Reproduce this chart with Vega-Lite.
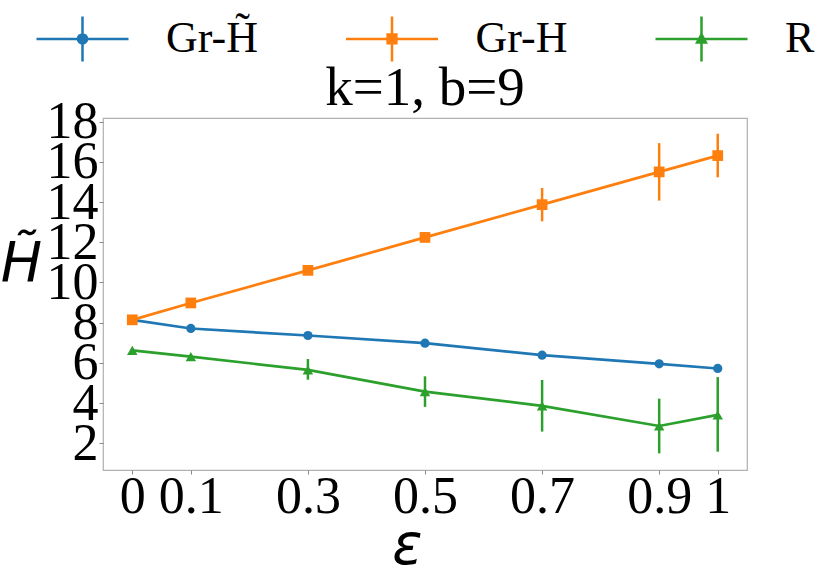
{
  "$schema": "https://vega.github.io/schema/vega-lite/v6.json",
  "width": 644,
  "height": 352,
  "autosize": "none",
  "padding": {"left": 103, "top": 118, "right": 83, "bottom": 106},
  "background": "white",
  "title": {
    "text": "k=1, b=9",
    "font": "Liberation Serif",
    "fontSize": 55,
    "fontWeight": "normal",
    "color": "black",
    "anchor": "middle",
    "baseline": "alphabetic",
    "offset": -169
  },
  "data": {
    "values": [
      {"series": "Gr-H̃", "eps": 0, "val": 8.14, "lo": 8.12, "hi": 8.16},
      {"series": "Gr-H̃", "eps": 0.1, "val": 7.71, "lo": 7.68, "hi": 7.74},
      {"series": "Gr-H̃", "eps": 0.3, "val": 7.36, "lo": 7.32, "hi": 7.40},
      {"series": "Gr-H̃", "eps": 0.5, "val": 6.98, "lo": 6.94, "hi": 7.02},
      {"series": "Gr-H̃", "eps": 0.7, "val": 6.38, "lo": 6.33, "hi": 6.43},
      {"series": "Gr-H̃", "eps": 0.9, "val": 5.95, "lo": 5.90, "hi": 6.00},
      {"series": "Gr-H̃", "eps": 1, "val": 5.72, "lo": 5.67, "hi": 5.77},
      {"series": "Gr-H", "eps": 0, "val": 8.14, "lo": 8.14, "hi": 8.14},
      {"series": "Gr-H", "eps": 0.1, "val": 8.98, "lo": 8.90, "hi": 9.06},
      {"series": "Gr-H", "eps": 0.3, "val": 10.6, "lo": 10.48, "hi": 10.72},
      {"series": "Gr-H", "eps": 0.5, "val": 12.24, "lo": 12.04, "hi": 12.44},
      {"series": "Gr-H", "eps": 0.7, "val": 13.87, "lo": 13.04, "hi": 14.70},
      {"series": "Gr-H", "eps": 0.9, "val": 15.5, "lo": 14.07, "hi": 16.93},
      {"series": "Gr-H", "eps": 1, "val": 16.31, "lo": 15.23, "hi": 17.40},
      {"series": "R", "eps": 0, "val": 6.62, "lo": 6.58, "hi": 6.66},
      {"series": "R", "eps": 0.1, "val": 6.31, "lo": 6.22, "hi": 6.40},
      {"series": "R", "eps": 0.3, "val": 5.65, "lo": 5.16, "hi": 6.19},
      {"series": "R", "eps": 0.5, "val": 4.57, "lo": 3.81, "hi": 5.33},
      {"series": "R", "eps": 0.7, "val": 3.86, "lo": 2.58, "hi": 5.15},
      {"series": "R", "eps": 0.9, "val": 2.86, "lo": 1.50, "hi": 4.22},
      {"series": "R", "eps": 1, "val": 3.41, "lo": 1.58, "hi": 5.29}
    ]
  },
  "encoding": {
    "x": {
      "field": "eps",
      "type": "quantitative",
      "scale": {"domain": [-0.05, 1.05], "nice": false, "zero": false},
      "axis": {
        "title": "ε",
        "values": [0, 0.1, 0.3, 0.5, 0.7, 0.9, 1],
        "format": "~g",
        "labelBaseline": "alphabetic",
        "labelPadding": 38,
        "titleFont": "DejaVu Sans",
        "titleFontStyle": "italic",
        "titleFontSize": 56,
        "titleX": 304,
        "titleY": 93,
        "titleAlign": "center",
        "titleBaseline": "alphabetic"
      }
    },
    "y": {
      "field": "val",
      "type": "quantitative",
      "scale": {"domain": [0.67, 18.18], "nice": false, "zero": false},
      "axis": {
        "title": "H̃",
        "values": [2, 4, 6, 8, 10, 12, 14, 16, 18],
        "labelPadding": 1,
        "titleFont": "DejaVu Sans",
        "titleFontStyle": "italic",
        "titleFontSize": 55,
        "titleAngle": 0,
        "titleX": -82,
        "titleY": 162,
        "titleAlign": "center",
        "titleBaseline": "alphabetic"
      }
    }
  },
  "layer": [
    {
      "mark": {"type": "line", "strokeWidth": 2.7},
      "encoding": {
        "stroke": {
          "field": "series",
          "type": "nominal",
          "scale": {"domain": ["R", "Gr-H", "Gr-H̃"], "range": ["#2ca02c", "#ff7f0e", "#1f77b4"]},
          "legend": null
        }
      }
    },
    {
      "mark": {"type": "rule", "strokeWidth": 2.5},
      "encoding": {
        "y": {"field": "lo", "type": "quantitative"},
        "y2": {"field": "hi"},
        "stroke": {
          "field": "series",
          "type": "nominal",
          "scale": {"domain": ["R", "Gr-H", "Gr-H̃"], "range": ["#2ca02c", "#ff7f0e", "#1f77b4"]},
          "legend": null
        }
      }
    },
    {
      "transform": [{"filter": "datum.series === 'Gr-H̃'"}],
      "mark": {"type": "point", "shape": "circle", "filled": true, "opacity": 1, "size": 85, "fill": "#1f77b4"}
    },
    {
      "transform": [{"filter": "datum.series === 'Gr-H'"}],
      "mark": {"type": "point", "shape": "square", "filled": true, "opacity": 1, "size": 115, "fill": "#ff7f0e"}
    },
    {
      "transform": [{"filter": "datum.series === 'R'"}],
      "mark": {"type": "point", "shape": "triangle-up", "filled": true, "opacity": 1, "size": 110, "fill": "#2ca02c"}
    },
    {
      "mark": {"type": "point", "filled": false, "opacity": 0},
      "encoding": {
        "color": {
          "field": "series",
          "type": "nominal",
          "scale": {
            "domain": ["Gr-H̃", "Gr-H", "R"],
            "range": ["#1f77b4", "#ff7f0e", "#2ca02c"]
          },
          "legend": {
            "title": null,
            "orient": "none",
            "legendX": -68,
            "legendY": -127,
            "direction": "horizontal",
            "columns": 3,
            "gridAlign": "all",
            "columnPadding": 82.5,
            "symbolSize": 8464,
            "symbolStrokeWidth": 2.5,
            "symbolOpacity": 1,
            "labelFont": "Liberation Serif",
            "labelFontSize": 44,
            "labelColor": "black",
            "labelOffset": 36,
            "labelLimit": 400
          }
        },
        "shape": {
          "field": "series",
          "type": "nominal",
          "scale": {
            "domain": ["Gr-H̃", "Gr-H", "R"],
            "range": [
              "M-1,0H1M0,-0.49V0.49M-0.1,0A0.1,0.1 0 1,0 0.1,0A0.1,0.1 0 1,0 -0.1,0M-0.05,0A0.05,0.05 0 1,0 0.05,0A0.05,0.05 0 1,0 -0.05,0",
              "M-1,0H1M0,-0.49V0.49M-0.095,-0.095H0.095V0.095H-0.095ZM-0.045,-0.045H0.045V0.045H-0.045Z",
              "M-1,0H1M0,-0.49V0.49M0,-0.1L0.095,0.075H-0.095ZM0,-0.035L0.04,0.04H-0.04Z"
            ]
          },
          "legend": {"title": null}
        }
      }
    }
  ],
  "config": {
    "view": {"stroke": "#b0b0b0", "strokeWidth": 1.2},
    "legend": {
      "labelFont": "Liberation Serif",
      "labelFontSize": 44,
      "labelColor": "black",
      "labelOffset": 36,
      "labelLimit": 400
    },
    "axis": {
      "grid": false,
      "domain": false,
      "ticks": true,
      "tickSize": 4,
      "tickColor": "#888888",
      "labelFont": "Liberation Serif",
      "labelFontSize": 52,
      "labelColor": "black",
      "titleColor": "black",
      "titleFontWeight": "normal",
      "labelOverlap": false,
      "labelFlush": false
    }
  }
}
